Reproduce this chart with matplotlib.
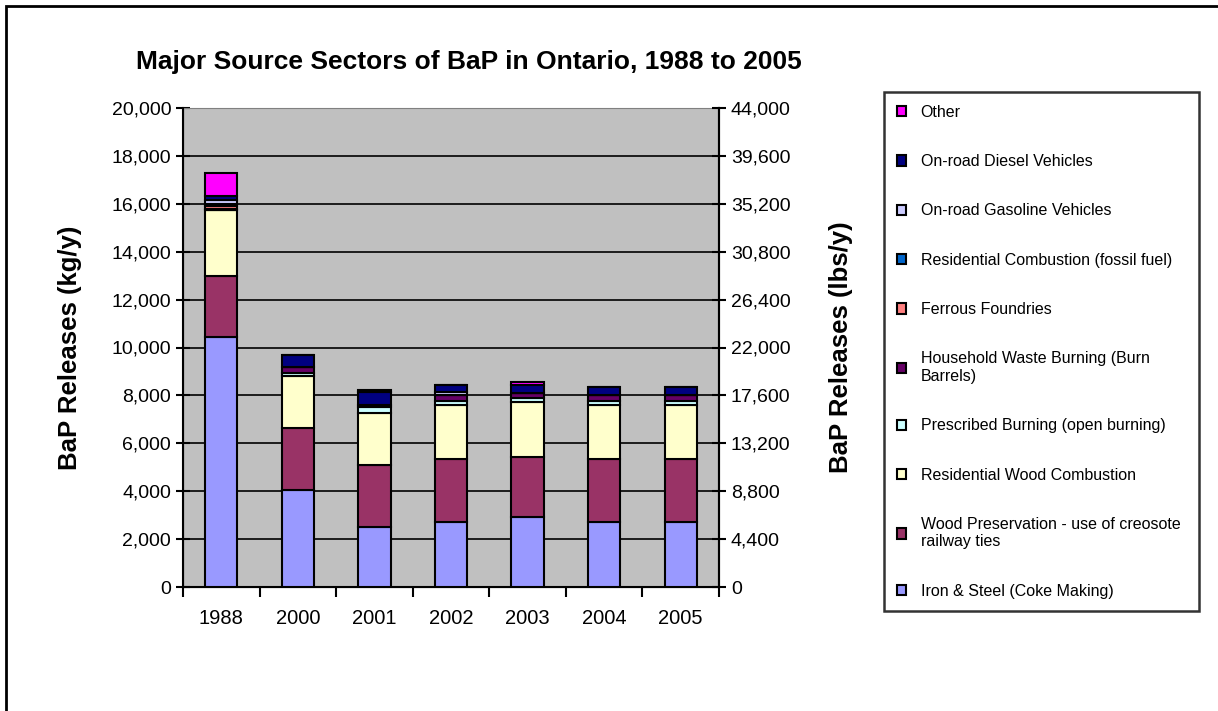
import numpy as np
import matplotlib
matplotlib.use("Agg")
import matplotlib.pyplot as plt
from matplotlib.patches import Rectangle
from matplotlib.ticker import FuncFormatter, MultipleLocator

plt.rcParams['font.family'] = ['Liberation Sans', 'DejaVu Sans']

years = ['1988', '2000', '2001', '2002', '2003', '2004', '2005']

# BaP releases by sector, kg/y
iron_steel = [10430, 4070, 2520, 2730, 2940, 2730, 2730]
wood_pres = [2560, 2560, 2580, 2600, 2480, 2600, 2600]
res_wood = [2750, 2200, 2160, 2270, 2320, 2270, 2270]
prescribed = [20, 120, 250, 180, 150, 150, 150]
household = [20, 250, 100, 250, 200, 250, 250]
ferrous = [140, 0, 0, 0, 0, 0, 0]
res_fossil = [60, 0, 0, 0, 0, 0, 0]
gasoline = [170, 0, 0, 100, 0, 0, 0]
diesel = [180, 480, 550, 300, 350, 340, 340]
other = [950, 0, 80, 0, 100, 0, 0]

series = [
    ('Iron & Steel (Coke Making)', iron_steel, '#9999FF'),
    ('Wood Preservation - use of creosote\nrailway ties', wood_pres, '#993366'),
    ('Residential Wood Combustion', res_wood, '#FFFFCC'),
    ('Prescribed Burning (open burning)', prescribed, '#CCFFFF'),
    ('Household Waste Burning (Burn\nBarrels)', household, '#660066'),
    ('Ferrous Foundries', ferrous, '#FF8080'),
    ('Residential Combustion (fossil fuel)', res_fossil, '#0066CC'),
    ('On-road Gasoline Vehicles', gasoline, '#CCCCFF'),
    ('On-road Diesel Vehicles', diesel, '#000080'),
    ('Other', other, '#FF00FF'),
]

W, H = 1218, 711
fig = plt.figure(figsize=(W / 100, H / 100), dpi=100)

# outer chart frame (right and bottom edges fall outside the image)
fig.patches.append(Rectangle((6 / W, -0.05), 1.2, 1 - 6 / H + 0.05,
                             transform=fig.transFigure, fill=False,
                             edgecolor='black', lw=2))

ax = fig.add_axes([183 / W, (H - 587) / H, (719 - 183) / W, (587 - 108) / H])
ax.set_facecolor('#C0C0C0')

x = np.arange(len(years))
bottom = np.zeros(len(years))
for name, vals, col in series:
    ax.bar(x, vals, 0.42, bottom=bottom, color=col, edgecolor='black',
           linewidth=1.5, label=name, zorder=3)
    bottom += np.array(vals)

ax.set_xlim(-0.5, len(years) - 0.5)
ax.set_ylim(0, 20000)
ax.yaxis.set_major_locator(MultipleLocator(2000))
ax.yaxis.set_major_formatter(FuncFormatter(lambda v, p: f'{int(v):,}'))
ax.grid(axis='y', color='black', lw=1.2, zorder=0)
ax.set_xticks(x)
ax.set_xticklabels(years, fontsize=14.5)
ax.tick_params(axis='x', which='major', length=0, pad=16)
ax.set_xticks(np.arange(-0.5, len(years), 1), minor=True)
ax.tick_params(axis='x', which='minor', length=7, width=1.5, direction='out')
ax.tick_params(axis='y', labelsize=14, direction='inout', length=10, width=1.5)
for s in ['left', 'bottom', 'right']:
    ax.spines[s].set_linewidth(1.5)
ax.spines['top'].set_color('#808080')
ax.set_ylabel('BaP Releases (kg/y)', fontsize=18.5, fontweight='bold')
ax.yaxis.set_label_coords(-0.188, 0.5)

ax2 = ax.twinx()
ax2.set_ylim(0, 44000)
ax2.yaxis.set_major_locator(MultipleLocator(4400))
ax2.yaxis.set_major_formatter(FuncFormatter(lambda v, p: f'{int(v):,}'))
ax2.tick_params(axis='y', labelsize=14, direction='inout', length=10, width=1.5)
ax2.spines['right'].set_linewidth(1.5)
ax2.spines['top'].set_visible(False)
ax2.set_ylabel('BaP Releases (lbs/y)', fontsize=18.5, fontweight='bold')
ax2.yaxis.set_label_coords(1.205, 0.5)

fig.text(469 / W, 1 - 62 / H, 'Major Source Sectors of BaP in Ontario, 1988 to 2005',
         ha='center', va='center', fontsize=19, fontweight='bold')

handles, labels = ax.get_legend_handles_labels()
leg = fig.legend(handles[::-1], labels[::-1], loc='upper left', mode='expand',
                 bbox_to_anchor=(884 / W, 0, 315 / W, 1 - 92 / H), fontsize=11.5,
                 frameon=True, fancybox=False, edgecolor='black',
                 handlelength=0.6, handleheight=0.6, handletextpad=0.9,
                 labelspacing=2.15, borderpad=0.8, borderaxespad=0)
leg.get_frame().set_linewidth(1.8)

fig.savefig('out.png', dpi=100)
